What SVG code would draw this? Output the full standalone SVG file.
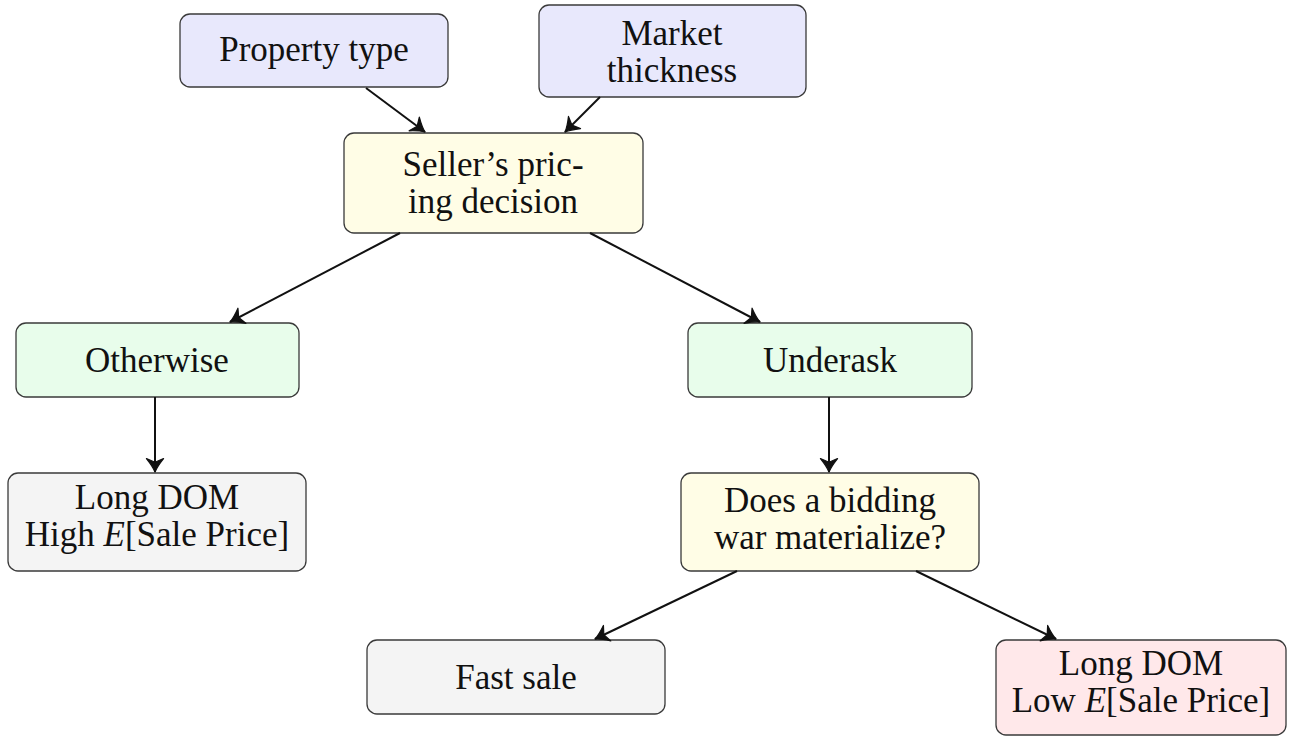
<svg xmlns="http://www.w3.org/2000/svg" width="1294" height="736" viewBox="0 0 1294 736">
<style>
.box{stroke:#3a3a3a;stroke-width:1.3}
.blue{fill:#e8e8fc}.yellow{fill:#fffde6}.green{fill:#e8fdeb}.gray{fill:#f4f4f4}.pink{fill:#ffe8ea}
text{font-family:"Liberation Serif","DejaVu Serif",serif;font-size:35px;fill:#111;text-anchor:middle}
.conn line{stroke:#111;stroke-width:2;marker-end:url(#arr)}
</style>
<defs>
<marker id="arr" markerUnits="userSpaceOnUse" markerWidth="22" markerHeight="22" viewBox="-13 -9 15 18" refX="0" refY="0" orient="auto">
<path d="M-11,-7 Q-4.5,-1.8 0,0 Q-4.5,1.8 -11,7 L-8,0 Z" fill="#111" stroke="#111" stroke-width="1" stroke-linejoin="round"/>
</marker>
</defs>
<g id="n-property"><rect class="box blue" x="180" y="14" width="268" height="73" rx="10"/><text x="314" y="61">Property type</text></g>
<g id="n-market"><rect class="box blue" x="539" y="5" width="267" height="92" rx="10"/><text x="672" y="45">Market</text><text x="672" y="82">thickness</text></g>
<g id="n-seller"><rect class="box yellow" x="344" y="133" width="299" height="100" rx="10"/><text x="493" y="176">Seller’s pric-</text><text x="493" y="213">ing decision</text></g>
<g id="n-otherwise"><rect class="box green" x="16" y="323" width="283" height="74" rx="10"/><text x="157" y="372">Otherwise</text></g>
<g id="n-underask"><rect class="box green" x="688" y="323" width="284" height="74" rx="10"/><text x="830" y="372">Underask</text></g>
<g id="n-longhigh"><rect class="box gray" x="8" y="473" width="298" height="98" rx="10"/><text x="157" y="509">Long DOM</text><text x="157" y="546">High <tspan font-style="italic">E</tspan>[Sale Price]</text></g>
<g id="n-bidding"><rect class="box yellow" x="681" y="473" width="298" height="98" rx="10"/><text x="830" y="512">Does a bidding</text><text x="830" y="549">war materialize?</text></g>
<g id="n-fast"><rect class="box gray" x="367" y="640" width="298" height="74" rx="10"/><text x="516" y="689">Fast sale</text></g>
<g id="n-longlow"><rect class="box pink" x="996" y="640" width="290" height="95" rx="10"/><text x="1141" y="675">Long DOM</text><text x="1141" y="712">Low <tspan font-style="italic">E</tspan>[Sale Price]</text></g>
<g id="connectors" class="conn">
<line x1="366" y1="88" x2="425" y2="132"/>
<line x1="600" y1="97" x2="565" y2="132"/>
<line x1="400" y1="233" x2="230" y2="322"/>
<line x1="590" y1="233" x2="760" y2="322"/>
<line x1="155" y1="397" x2="155" y2="472"/>
<line x1="829" y1="397" x2="829" y2="472"/>
<line x1="737" y1="571" x2="595" y2="639"/>
<line x1="916" y1="571" x2="1056" y2="639"/>
</g>
</svg>
